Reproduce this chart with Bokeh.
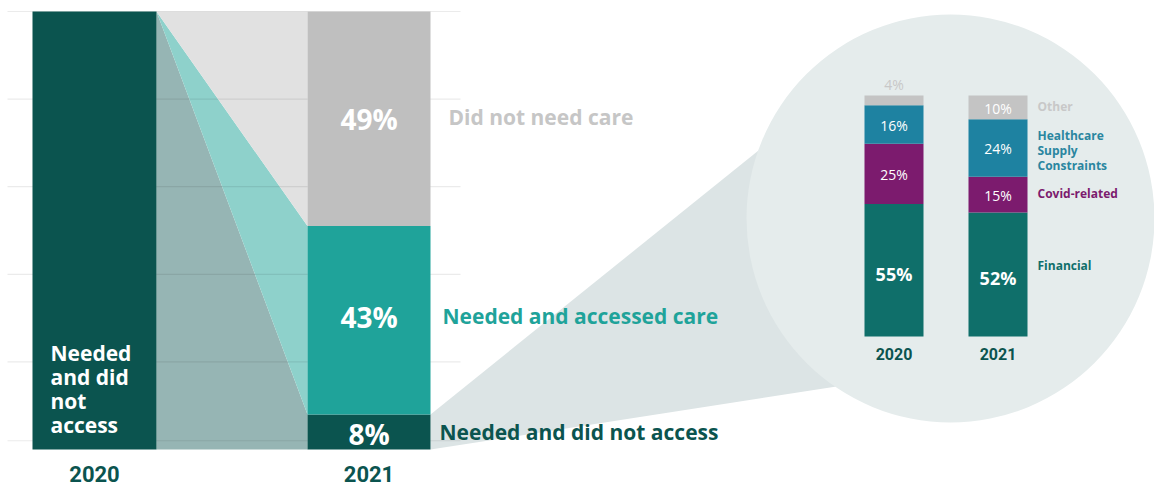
from bokeh.plotting import figure
from bokeh.models import Range1d
from bokeh.embed import file_html
from bokeh.resources import INLINE
from bokeh.core.properties import value

# ---------------- data ----------------
years = ["2020", "2021"]
main_2020 = [100]                 # "Needed and did not access" (whole 2020 bar)
main_2021 = [8, 43, 49]           # bottom -> top
main_2021_names = ["Needed and did not access", "Needed and accessed care", "Did not need care"]
grid_levels = [2, 20, 40, 60, 80, 100]

reason_names = ["Financial", "Covid-related", "Healthcare Supply Constraints", "Other"]
reasons_2020 = [55, 25, 16, 4]    # bottom -> top
reasons_2021 = [52, 15, 24, 10]

# ---------------- layout / style ----------------
W, H = 1154, 485
FONT = value("Open Sans")
NUMFONT = value("Roboto")
MAIN_BASE, MAIN_SCALE = 449, 4.38          # px of 0 %, px per %
INSET_BASE, INSET_SCALE = 336, 2.41
main_left = [32, 307]
main_right = [156, 430]
inset_center = [893.5, 997.5]
inset_width = 59

DARK = "#0b544f"
TEAL = "#1fa39a"
GREY = "#bfbfbf"
main_colors = [DARK, TEAL, GREY]
main_text_colors = [DARK, TEAL, "#c6c6c6"]
flow_colors = ["#96b5b4", "#8ed1cb", "#e1e1e1"]
reason_colors = ["#0f6f6a", "#7c1b6e", "#1e82a1", "#c4c4c4"]
reason_text_colors = ["#0f6f6a", "#7c1b6e", "#2a86a0", "#c8c8c8"]


def my(v):
    return MAIN_BASE - v * MAIN_SCALE


def iy(v):
    return INSET_BASE - v * INSET_SCALE


def stack(vals, normalise=False):
    tot = sum(vals) if normalise else 1
    k = 100.0 / tot if normalise else 1
    out, acc = [], 0
    for v in vals:
        out.append((acc, acc + v * k))
        acc += v * k
    return out


p = figure(width=W, height=H, x_range=Range1d(0, W), y_range=Range1d(H, 0),
           output_backend="svg", toolbar_location=None, min_border=0)
p.axis.visible = False
p.grid.visible = False
p.outline_line_color = None
p.background_fill_color = "white"
p.border_fill_color = "white"

# ---- connector wedge and circle for the inset ----
s21 = stack(main_2021)
p.patch([main_right[1], main_right[1], 836, 950, 758],
        [my(s21[0][1]), my(s21[0][0]), 386, 218, 150],
        fill_color="#dce4e5", line_color=None)
p.circle(x=[950], y=[218], radius=204, fill_color="#e5ecec", line_color=None)

# ---- flows between 2020 and 2021 ----
x0, x1 = main_right[0], main_left[1]
top2020 = my(main_2020[0])
for (lo, hi), c in zip(s21, flow_colors):
    if lo == 0:
        xs = [x0, x1, x1, x0]
        ys = [top2020, my(hi), my(lo), my(0)]
    else:
        xs = [x0, x1, x1]
        ys = [top2020, my(hi), my(lo)]
    p.patch(xs, ys, fill_color=c, line_color=None)

# ---- gridlines ----
p.segment(x0=[7] * len(grid_levels), x1=[460] * len(grid_levels),
          y0=[my(g) for g in grid_levels], y1=[my(g) for g in grid_levels],
          line_color="black", line_alpha=0.08, line_width=1.2)

# ---- main bars ----
p.quad(left=[main_left[0]], right=[main_right[0]], top=[my(main_2020[0])], bottom=[my(0)],
       fill_color=DARK, line_color=None)
p.quad(left=[main_left[1]] * 3, right=[main_right[1]] * 3,
       top=[my(hi) for lo, hi in s21], bottom=[my(lo) for lo, hi in s21],
       fill_color=main_colors, line_color=None)

# labels inside 2021 bar
cx21 = (main_left[1] + main_right[1]) / 2
lab_y = [my(s21[0][0]) - 16, my(s21[1][0]) - 97, my(s21[2][1]) + 107]
p.text(x=[cx21] * 3, y=lab_y, text=[f"{v}%" for v in main_2021],
       text_font=FONT, text_font_style="bold", text_font_size="28px",
       text_color="white", text_align="center", text_baseline="middle")

# category labels right of 2021 bar
p.text(x=[439, 442, 448], y=[lab_y[0] - 2, lab_y[1] - 1, lab_y[2] - 2], text=main_2021_names,
       text_font=FONT, text_font_style="bold", text_font_size="21px",
       text_color=main_text_colors, text_align="left", text_baseline="middle")

# label inside 2020 bar
lines = ["Needed", "and did", "not", "access"]
p.text(x=[50] * 4, y=[my(22) + 24 * i for i in range(4)], text=lines,
       text_font=FONT, text_font_style="bold", text_font_size="21px",
       text_color="white", text_align="left", text_baseline="middle")

# year labels
p.text(x=[(l + r) / 2 for l, r in zip(main_left, main_right)], y=[my(0) + 24] * 2, text=years,
       text_font=NUMFONT, text_font_style="bold", text_font_size="22px",
       text_color=DARK, text_align="center", text_baseline="middle")

# ---- inset stacked bars ----
for cx, vals in zip(inset_center, [reasons_2020, reasons_2021]):
    st = stack(vals, normalise=True)
    p.vbar(x=[cx] * len(vals), width=inset_width,
           top=[iy(hi) for lo, hi in st], bottom=[iy(lo) for lo, hi in st],
           fill_color=reason_colors, line_color=None)
    ys, cols = [], []
    for (lo, hi) in st[1:]:
        if hi - lo < 6:
            ys.append(iy(hi) - 11)
            cols.append("#c8c8c8")
        else:
            ys.append(iy((lo + hi) / 2) + 1)
            cols.append("white")
    p.text(x=[cx] * (len(vals) - 1), y=ys, text=[f"{v}%" for v in vals[1:]],
           text_font=FONT, text_font_size="14px", text_color=cols,
           text_align="center", text_baseline="middle")
    # Financial value, bold
    p.text(x=[cx], y=[iy((st[0][0] + st[0][1]) / 2) + 4], text=[f"{vals[0]}%"],
           text_font=FONT, text_font_style="bold", text_font_size="18px",
           text_color="white", text_align="center", text_baseline="middle")

p.text(x=inset_center, y=[iy(0) + 17] * 2, text=years,
       text_font=NUMFONT, text_font_style="bold", text_font_size="16px",
       text_color=DARK, text_align="center", text_baseline="middle")

# inset legend
st21 = stack(reasons_2021, normalise=True)
leg_x = 1037
leg_lines = [("Other", iy(st21[3][1]) + 11, reason_text_colors[3]),
             ("Healthcare", iy(st21[2][1]) + 16, reason_text_colors[2]),
             ("Supply", iy(st21[2][1]) + 31, reason_text_colors[2]),
             ("Constraints", iy(st21[2][1]) + 46, reason_text_colors[2]),
             ("Covid-related", iy((st21[1][0] + st21[1][1]) / 2) - 1, reason_text_colors[1]),
             ("Financial", iy(st21[0][1]) + 53, reason_text_colors[0])]
p.text(x=[leg_x] * len(leg_lines), y=[l[1] for l in leg_lines], text=[l[0] for l in leg_lines],
       text_font=FONT, text_font_style="bold", text_font_size="12px",
       text_color=[l[2] for l in leg_lines], text_align="left", text_baseline="middle")

open("out.html", "w").write(file_html(p, INLINE))
